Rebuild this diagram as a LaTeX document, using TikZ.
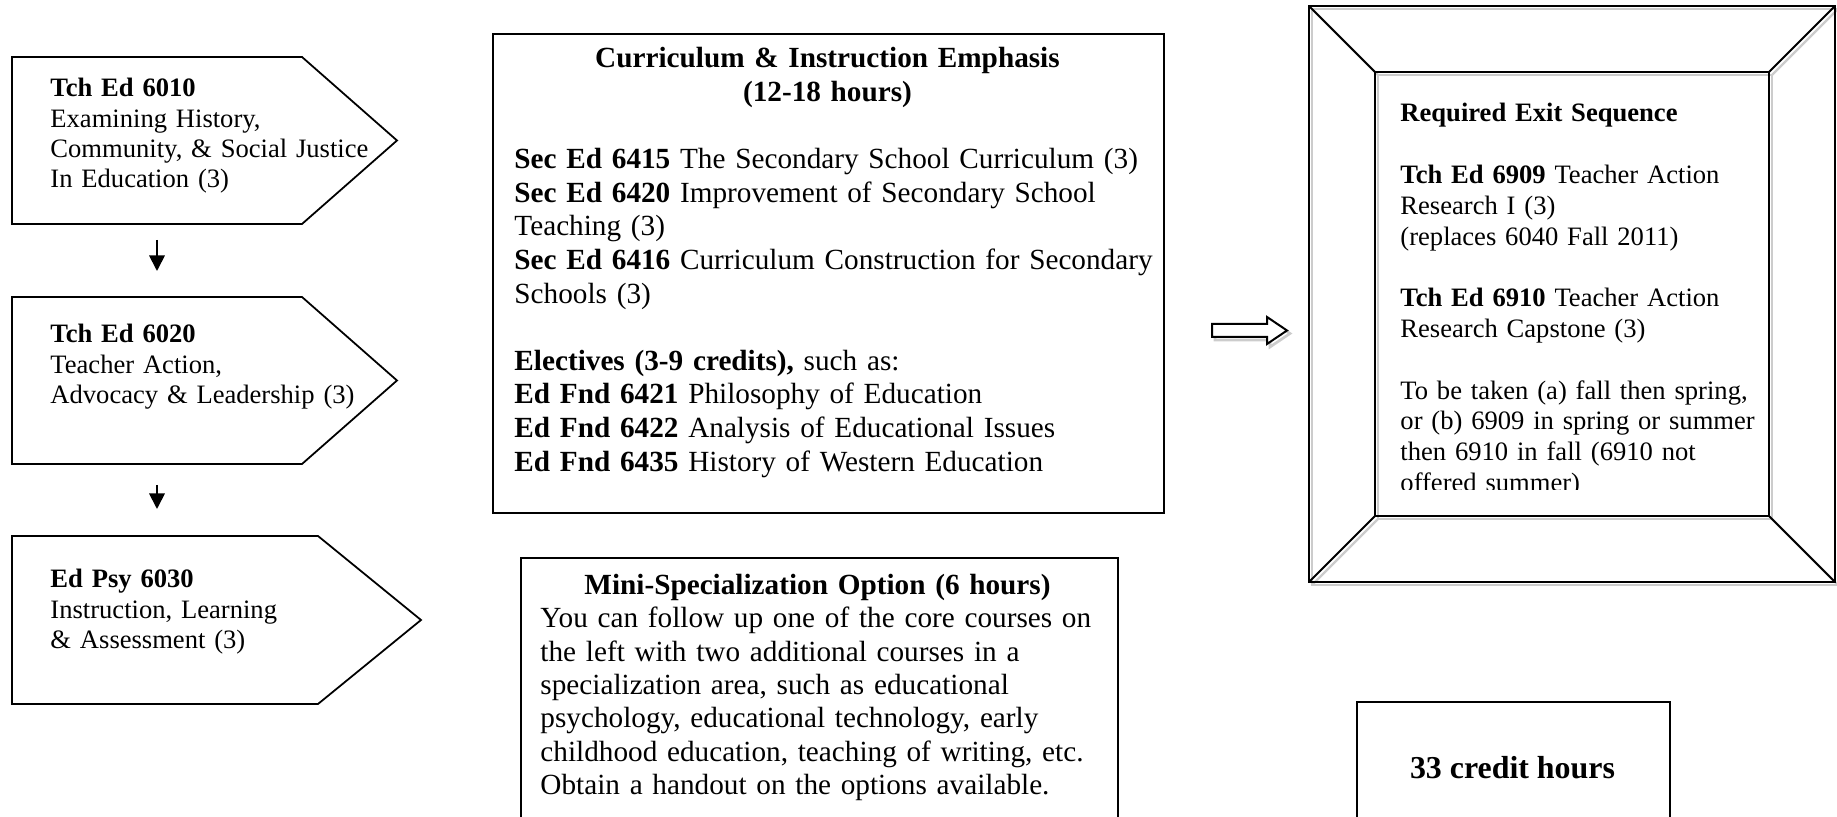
\documentclass[tikz,border=0pt]{standalone}
\usepackage{fontspec}
\setmainfont{Liberation Serif}
\usetikzlibrary{arrows.meta}
\begin{document}
\begin{tikzpicture}[x=0.4515pt,y=-0.4515pt,
  line join=miter,
  penta/.style={draw=black,line width=0.8pt},
  boxline/.style={draw=black,line width=0.85pt,inner sep=0pt,anchor=north west},
  ptxt/.style={anchor=base west,inner sep=0pt,align=left,text width=250pt,
    font=\fontsize{12}{13.55}\selectfont},
  ctxt/.style={anchor=base west,inner sep=0pt,align=left,text width=320pt,
    font=\fontsize{13.2}{15.17}\selectfont},
  ftxt/.style={anchor=base west,inner sep=0pt,align=left,text width=200pt,
    font=\fontsize{12}{13.9}\selectfont},
  mtxt/.style={anchor=base west,inner sep=0pt,align=left,text width=300pt,
    font=\fontsize{13.2}{15.04}\selectfont},
  ttl/.style={anchor=base,inner sep=0pt,align=center,text width=320pt,
    font=\fontsize{13.2}{15.17}\selectfont\bfseries},
  downarr/.style={line width=0.8pt,-{Triangle[length=7pt,width=7pt]}},
  shadowline/.style={draw=black!20,line width=1pt}
]
\clip (0,0) rectangle (1837,817);

% left column pentagons
\draw[penta] (12,57) -- (302,57) -- (397,140.5) -- (302,224) -- (12,224) -- cycle;
\draw[penta] (12,297) -- (302,297) -- (397,380.5) -- (302,464) -- (12,464) -- cycle;
\draw[penta] (12,536) -- (318,536) -- (421,620) -- (318,704) -- (12,704) -- cycle;

\node[ptxt] (t1) at (50,97) {\textbf{Tch Ed 6010}\\Examining History,\\Community, \& Social Justice\\In Education (3)};
\node[ptxt] (t2) at (50,343) {\textbf{Tch Ed 6020}\\Teacher Action,\\Advocacy \& Leadership (3)};
\node[ptxt] (t3) at (50,588) {\textbf{Ed Psy 6030}\\Instruction, Learning\\\& Assessment (3)};

\coordinate (a1s) at (157,240);
\coordinate (a1e) at (157,271);
\coordinate (a2s) at (157,485);
\coordinate (a2e) at (157,509);
\draw[downarr] (a1s) -- (a1e);
\draw[downarr] (a2s) -- (a2e);

% central emphasis box
\node[boxline,minimum width=671*0.4515pt,minimum height=479*0.4515pt] (cbox) at (492,33) {};
\node[ttl] (ctitle) at (827.5,68) {Curriculum \& Instruction Emphasis\\(12-18 hours)};
\node[ctxt] (cbody) at (514,168.8) {\textbf{Sec Ed 6415} The Secondary School Curriculum (3)\\
\textbf{Sec Ed 6420} Improvement of Secondary School\\
Teaching (3)\\
\textbf{Sec Ed 6416} Curriculum Construction for Secondary\\
Schools (3)\\[15.17pt]
\textbf{Electives (3-9 credits),} such as:\\
\textbf{Ed Fnd 6421} Philosophy of Education\\
\textbf{Ed Fnd 6422} Analysis of Educational Issues\\
\textbf{Ed Fnd 6435} History of Western Education};

% mini-specialization box
\node[boxline,minimum width=597*0.4515pt,minimum height=300*0.4515pt] (mbox) at (520,557) {};
\node[ttl] (mtitle) at (817.5,595) {Mini-Specialization Option (6 hours)};
\node[mtxt] (mbody) at (540,628) {You can follow up one of the core courses on\\the left with two additional courses in a\\specialization area, such as educational\\psychology, educational technology, early\\childhood education, teaching of writing, etc.\\Obtain a handout on the options available.};

% hollow block arrow
\coordinate (h0) at (1212,330.5);
\draw[shadowline,line width=1.2pt] ([shift={(3,3)}]h0) ++(0,-6.5) -- ++(55,0) -- ++(0,-7) -- ++(20,13.5) -- ++(-20,13.5) -- ++(0,-7) -- ++(-55,0) -- cycle;
\draw[line width=0.9pt,fill=white] (h0) ++(0,-6.5) -- ++(55,0) -- ++(0,-7) -- ++(20,13.5) -- ++(-20,13.5) -- ++(0,-7) -- ++(-55,0) -- cycle;

% required exit sequence frame (bevel)
\begin{scope}[shift={(3,3)}]
  \draw[shadowline] (1309,6) rectangle (1835,582);
  \draw[shadowline] (1375,72) rectangle (1769,516);
  \draw[shadowline] (1309,6) -- (1375,72) (1835,6) -- (1769,72) (1309,582) -- (1375,516) (1835,582) -- (1769,516);
\end{scope}
\coordinate (fo1) at (1309,6);
\coordinate (fo2) at (1835,6);
\coordinate (fo3) at (1835,582);
\coordinate (fo4) at (1309,582);
\coordinate (fi1) at (1375,72);
\coordinate (fi2) at (1769,72);
\coordinate (fi3) at (1769,516);
\coordinate (fi4) at (1375,516);
\draw[line width=0.9pt] (fo1) -- (fo2) -- (fo3) -- (fo4) -- cycle;
\draw[line width=0.9pt] (fi1) -- (fi2) -- (fi3) -- (fi4) -- cycle;
\draw[line width=0.9pt] (fo1) -- (fi1) (fo2) -- (fi2) (fo3) -- (fi3) (fo4) -- (fi4);
\begin{scope}
  \clip (1376,73) rectangle (1768,490);
  \node[ftxt] (ftext) at (1400,122) {\textbf{Required Exit Sequence}\\[13.9pt]
  \textbf{Tch Ed 6909} Teacher Action\\Research I (3)\\(replaces 6040 Fall 2011)\\[13.9pt]
  \textbf{Tch Ed 6910} Teacher Action\\Research Capstone (3)\\[13.9pt]
  To be taken (a) fall then spring,\\or (b) 6909 in spring or summer\\then 6910 in fall (6910 not\\offered summer)};
\end{scope}

% credit hours box
\node[boxline,minimum width=313*0.4515pt,minimum height=200*0.4515pt] (hbox) at (1356,701) {};
\node[anchor=base,inner sep=0pt,font=\fontsize{14.4}{17}\selectfont\bfseries] (htext) at (1512.5,778) {33 credit hours};
\end{tikzpicture}
\end{document}
